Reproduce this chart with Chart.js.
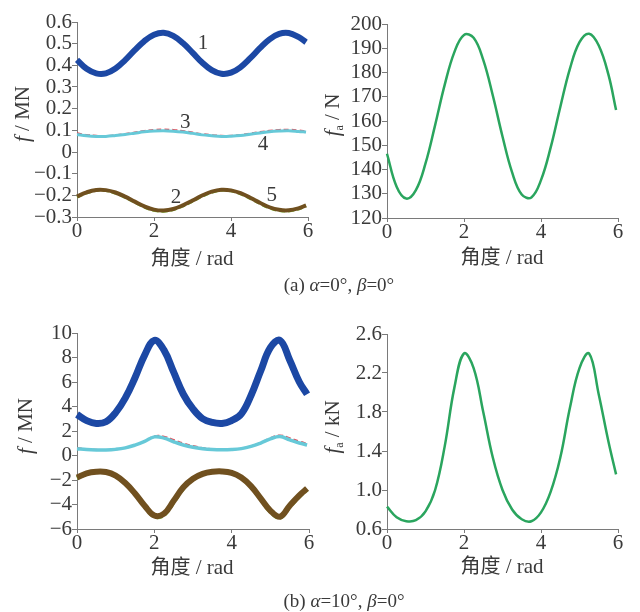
<!DOCTYPE html>
<html>
<head>
<meta charset="UTF-8">
<script src="https://cdn.jsdelivr.net/npm/chart.js@4.4.0/dist/chart.umd.min.js"></script>
<style>
body { margin:0; background:#fff; width:640px; height:612px; position:relative; overflow:hidden;
       font-family:'Liberation Serif',serif; color:#3a3a3a; }
canvas { position:absolute; }
.t { position:absolute; white-space:nowrap; transform:translate(-50%,-50%); font-size:21px; line-height:1; }
.r { transform:translate(-50%,-50%) rotate(-90deg); }
.cap { font-size:19px; }
.zh { font-family:'Noto Sans CJK SC',sans-serif; font-size:20px; }
sub { font-size:12px; vertical-align:-4px; }
</style>
</head>
<body>
<canvas id="ca" width="330" height="250" style="left:0;top:0"></canvas>
<canvas id="cb" width="320" height="250" style="left:320px;top:0"></canvas>
<canvas id="cc" width="330" height="250" style="left:0;top:310px"></canvas>
<canvas id="cd" width="320" height="250" style="left:320px;top:310px"></canvas>

<div class="t r" style="left:22px;top:114px"><i>f</i> / MN</div>
<div class="t r" style="left:333px;top:115px"><i>f</i><sub>a</sub> / N</div>
<div class="t r" style="left:25px;top:426px"><i>f</i> / MN</div>
<div class="t r" style="left:333px;top:427px"><i>f</i><sub>a</sub> / kN</div>

<div class="t" style="left:192px;top:258px"><span class="zh">角度</span> / rad</div>
<div class="t" style="left:502px;top:257px"><span class="zh">角度</span> / rad</div>
<div class="t" style="left:192px;top:567px"><span class="zh">角度</span> / rad</div>
<div class="t" style="left:502px;top:566px"><span class="zh">角度</span> / rad</div>

<div class="t cap" style="left:339px;top:284px">(a) <i>α</i>=0°, <i>β</i>=0°</div>
<div class="t cap" style="left:344px;top:600px">(b) <i>α</i>=10°, <i>β</i>=0°</div>

<script>
// angle (rad), shared by every curve
const angle = [0,0.25,0.5,0.75,1,1.25,1.5,1.75,2,2.25,2.5,2.75,3,3.25,3.5,3.75,4,4.25,4.5,4.75,5,5.25,5.5,5.75,5.95];

// (a) alpha=0, beta=0 : forces f / MN
const a1 = [0.425,0.384,0.363,0.363,0.385,0.424,0.470,0.512,0.541,0.550,0.536,0.503,0.459,0.413,0.378,0.361,0.366,0.392,0.433,0.479,0.520,0.545,0.549,0.531,0.507];
const a3 = [0.088,0.080,0.076,0.075,0.078,0.084,0.091,0.098,0.103,0.105,0.103,0.098,0.091,0.084,0.079,0.076,0.076,0.080,0.086,0.093,0.099,0.103,0.104,0.101,0.097];
const a4 = [0.081,0.075,0.072,0.072,0.076,0.081,0.087,0.093,0.097,0.098,0.096,0.092,0.086,0.079,0.075,0.072,0.073,0.076,0.082,0.088,0.094,0.097,0.098,0.095,0.092];
const a2 = [-0.205,-0.186,-0.175,-0.176,-0.187,-0.206,-0.229,-0.251,-0.266,-0.270,-0.263,-0.246,-0.224,-0.201,-0.183,-0.174,-0.177,-0.190,-0.211,-0.234,-0.255,-0.267,-0.269,-0.260,-0.246];
const a5 = [-0.208,-0.189,-0.177,-0.178,-0.190,-0.209,-0.232,-0.254,-0.269,-0.273,-0.266,-0.249,-0.227,-0.204,-0.186,-0.176,-0.179,-0.193,-0.214,-0.237,-0.258,-0.270,-0.272,-0.263,-0.249];
// (a) fa / N
const aFa = [146.5,132.9,128.0,131.5,142.5,158.3,175.0,188.4,195.5,194.3,185.2,170.4,153.6,138.8,129.7,128.5,135.6,149.0,165.7,181.5,192.5,196.0,191.1,179.2,164.5];

// (b) alpha=10, beta=0 : forces f / MN
const b1 = [3.35,2.85,2.62,2.75,3.5,4.7,6.35,8.2,9.4,8.6,6.8,5.0,3.8,3.0,2.7,2.62,2.85,3.4,4.9,6.9,8.8,9.4,7.8,6.0,5.0];
const b3 = [0.62,0.52,0.47,0.46,0.5,0.62,0.85,1.17,1.58,1.55,1.28,1.0,0.78,0.62,0.52,0.47,0.48,0.57,0.76,1.05,1.42,1.65,1.42,1.15,0.98];
const b4 = [0.55,0.48,0.45,0.45,0.5,0.62,0.85,1.15,1.52,1.42,1.12,0.86,0.67,0.55,0.48,0.46,0.48,0.56,0.74,1.02,1.36,1.55,1.28,1.02,0.86];
const b2 = [-1.8,-1.45,-1.32,-1.35,-1.65,-2.25,-3.1,-4.1,-4.9,-4.75,-3.7,-2.6,-1.9,-1.5,-1.33,-1.3,-1.42,-1.8,-2.5,-3.5,-4.5,-5.0,-4.1,-3.25,-2.7];
const b5 = [-1.85,-1.48,-1.34,-1.37,-1.68,-2.3,-3.15,-4.15,-4.98,-4.85,-3.8,-2.7,-1.95,-1.53,-1.35,-1.32,-1.45,-1.84,-2.55,-3.55,-4.58,-5.08,-4.2,-3.35,-2.8];
// (b) fa / kN
const bFa = [0.83,0.72,0.68,0.69,0.78,1.0,1.45,2.05,2.4,2.25,1.8,1.33,1.0,0.8,0.7,0.68,0.77,0.98,1.33,1.84,2.25,2.4,1.98,1.5,1.16];

// tick values and labels
const xTicks = [0,2,4,6];
const xLabels = ['0','2','4','6'];
const aTicks = [0.6,0.5,0.4,0.3,0.2,0.1,0,-0.1,-0.2,-0.3];
const aLabels = ['0.6','0.5','0.4','0.3','0.2','0.1','0','\u22120.1','\u22120.2','\u22120.3'];
const aFaTicks = [200,190,180,170,160,150,140,130,120];
const aFaLabels = ['200','190','180','170','160','150','140','130','120'];
const bTicks = [10,8,6,4,2,0,-2,-4,-6];
const bLabels = ['10','8','6','4','2','0','\u22122','\u22124','\u22126'];
const bFaTicks = [2.6,2.2,1.8,1.4,1.0,0.6];
const bFaLabels = ['2.6','2.2','1.8','1.4','1.0','0.6'];

// curve numbers in panel (a)
const noteText = ['1','2','3','4','5'];
const noteX = [3.27,2.57,2.81,4.83,5.06];
const noteY = [0.503,-0.21,0.136,0.035,-0.20];

const serif = "'Liberation Serif', serif";
const axisCol = '#7a7a7a';

function line(vals, color, width, dash) {
  return {
    data: angle.map((x, i) => ({x: x, y: vals[i]})),
    borderColor: color, borderWidth: width, borderDash: dash || [],
    pointRadius: 0, tension: 0.4, fill: false, clip: 8
  };
}

function makeChart(id, datasets, yTicks, yLabels, ymin, ymax, yWidth, padTop, padRight, xHeight, plugins) {
  return new Chart(document.getElementById(id), {
    type: 'line',
    data: { datasets: datasets },
    options: {
      responsive: false, animation: false,
      layout: { autoPadding: false, padding: { top: padTop, right: padRight, bottom: 0, left: 0 } },
      plugins: { legend: { display: false }, tooltip: { enabled: false } },
      scales: {
        x: {
          type: 'linear', min: 0, max: 6,
          afterBuildTicks: s => { s.ticks = xTicks.map(v => ({value: v})); },
          afterFit: s => { s.height = xHeight; },
          ticks: { autoSkip: false, maxRotation: 0, padding: -2, color: '#3a3a3a',
                   font: { family: serif, size: 21 }, callback: (v, i) => xLabels[i] },
          grid: { drawOnChartArea: false, color: axisCol, tickLength: 4 },
          border: { color: axisCol, width: 1 }
        },
        y: {
          min: ymin, max: ymax,
          afterBuildTicks: s => { s.ticks = yTicks.map(v => ({value: v})); },
          afterFit: s => { s.width = yWidth; },
          ticks: { autoSkip: false, padding: 0, color: '#3a3a3a',
                   font: { family: serif, size: 21 }, callback: (v, i) => yLabels[i] },
          grid: { drawOnChartArea: false, color: axisCol, tickLength: 5 },
          border: { color: axisCol, width: 1 }
        }
      }
    },
    plugins: plugins || []
  });
}

const notesPlugin = {
  id: 'notes',
  afterDatasetsDraw(chart) {
    const ctx = chart.ctx, xs = chart.scales.x, ys = chart.scales.y;
    ctx.save();
    ctx.font = '21px ' + serif;
    ctx.fillStyle = '#3a3a3a';
    ctx.textAlign = 'center';
    ctx.textBaseline = 'middle';
    noteText.forEach((t, i) => ctx.fillText(t, xs.getPixelForValue(noteX[i]), ys.getPixelForValue(noteY[i])));
    ctx.restore();
  }
};

const blue = '#1c48a4', brown = '#70501f', lgreen = '#7dbf3c', cyan = '#67c9d8', red = '#e0505c', green = '#2aa55e';

makeChart('ca', [
  line(a1, blue, 6),
  line(a4, cyan, 3),
  line(a3, red, 1.5, [5, 3]),
  line(a2, brown, 4),
  line(a5, lgreen, 3, [6, 3])
], aTicks, aLabels, -0.3, 0.6, 77, 22, 22, 33, [notesPlugin]);

makeChart('cb', [line(aFa, green, 2.5)], aFaTicks, aFaLabels, 120, 200, 67, 24, 22, 32);

makeChart('cc', [
  line(b1, blue, 7),
  line(b4, cyan, 3.5),
  line(b3, red, 1.8, [5, 3]),
  line(b2, brown, 6),
  line(b5, lgreen, 4, [6, 3])
], bTicks, bLabels, -6, 10, 77, 23, 21, 31);

makeChart('cd', [line(bFa, green, 2.5)], bFaTicks, bFaLabels, 0.6, 2.6, 67, 24, 22, 31);
</script>
</body>
</html>
